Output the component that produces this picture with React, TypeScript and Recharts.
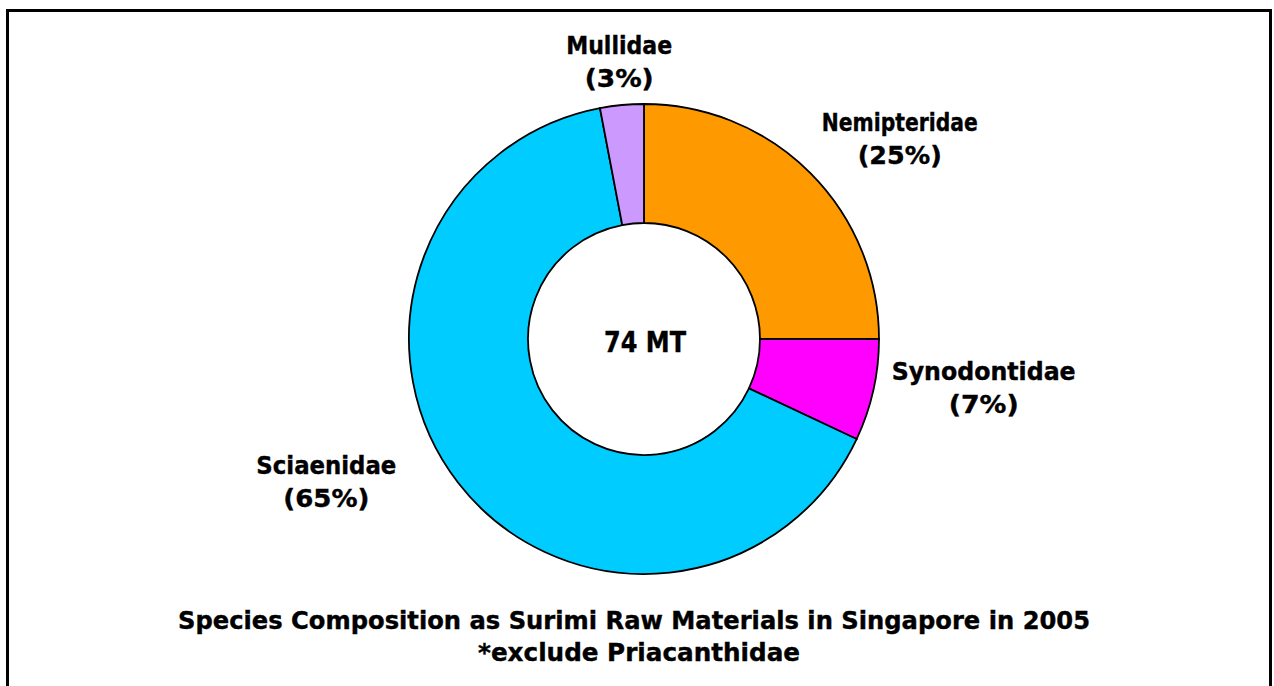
import { PieChart, Pie, Cell } from "recharts";

// Surimi raw materials, Singapore 2005 (share of 74 MT, Priacanthidae excluded)
const families = ["Nemipteridae", "Synodontidae", "Sciaenidae", "Mullidae"];
const shares = [25, 7, 65, 3];
const sliceColors = ["#FF9900", "#FF00FF", "#00CCFF", "#CC99FF"];
const totalLabel = "74 MT";
const titleLines = [
  "Species Composition as Surimi Raw Materials in Singapore in 2005",
  "*exclude Priacanthidae",
];

const FONT = "'DejaVu Sans', Verdana, sans-serif";
const RAD = Math.PI / 180;

// where each label sits, relative to its slice's mid angle, and how wide its lines run
const labelPlace: Record<string, { dr: number; da: number; w1: number; w2: number }> = {
  Nemipteridae: { dr: 90, da: -6.9, w1: 156, w2: 84 },
  Synodontidae: { dr: 108, da: 4.6, w1: 184, w2: 70 },
  Sciaenidae: { dr: 113, da: -13.7, w1: 140, w2: 86 },
  Mullidae: { dr: 44, da: -0.3, w1: 106, w2: 69 },
};

const boldText = {
  fontFamily: FONT,
  fontWeight: "bold",
  fill: "#000",
  stroke: "#000",
  strokeWidth: 0.4,
  textAnchor: "middle" as const,
  lengthAdjust: "spacingAndGlyphs",
};

function renderLabel(props: any) {
  const { cx, cy, midAngle, outerRadius, percent } = props;
  const name = props.payload?.name ?? props.name;
  const p = labelPlace[name];
  if (!p) return null;
  const r = outerRadius + p.dr;
  const a = midAngle + p.da;
  const x = cx + r * Math.cos(-a * RAD);
  const y = cy + r * Math.sin(-a * RAD);
  const b1 = y - 7;
  return (
    <g key={name}>
      <text {...boldText} x={x} y={b1} fontSize={25} textLength={p.w1}>
        {name}
      </text>
      <text {...boldText} x={x} y={b1 + 33} fontSize={25} textLength={p.w2}>
        ({Math.round(percent * 100)}%)
      </text>
    </g>
  );
}

export default function App() {
  const data = families.map((f, i) => ({ name: f, value: shares[i] }));

  return (
    <div
      style={{
        position: "absolute",
        left: 0,
        top: 0,
        width: 1274,
        height: 686,
        overflow: "hidden",
        background: "#fff",
      }}
    >
      <div
        style={{
          position: "absolute",
          left: 6,
          top: 9,
          width: 1266,
          height: 700,
          border: "3px solid #000",
          boxSizing: "border-box",
        }}
      />
      <div style={{ position: "absolute", left: 0, top: 0 }}>
        <PieChart width={1274} height={686} margin={{ top: 0, right: 0, bottom: 0, left: 0 }}>
          <Pie
            data={data}
            dataKey="value"
            nameKey="name"
            cx={644}
            cy={339}
            innerRadius={116}
            outerRadius={235}
            startAngle={90}
            endAngle={-270}
            stroke="#000"
            strokeWidth={1.8}
            label={renderLabel}
            labelLine={false}
            isAnimationActive={false}
          >
            {data.map((d, i) => (
              <Cell key={d.name} fill={sliceColors[i]} />
            ))}
          </Pie>
        </PieChart>
      </div>
      <svg
        width={1274}
        height={686}
        style={{ position: "absolute", left: 0, top: 0, pointerEvents: "none" }}
      >
        <text {...boldText} x={645} y={352} fontSize={29} textLength={82}>
          {totalLabel}
        </text>
        <text {...boldText} x={634} y={629} fontSize={25} textLength={912}>
          {titleLines[0]}
        </text>
        <text {...boldText} x={639} y={661} fontSize={25} textLength={322}>
          {titleLines[1]}
        </text>
      </svg>
    </div>
  );
}
